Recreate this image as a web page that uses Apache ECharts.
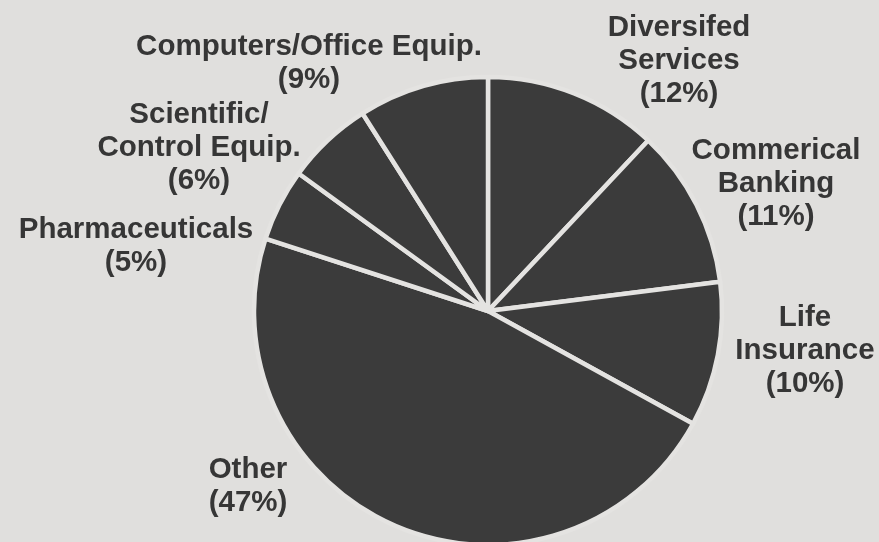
<!DOCTYPE html>
<html>
<head>
<meta charset="utf-8">
<script src="https://cdn.jsdelivr.net/npm/echarts@6/dist/echarts.min.js"></script>
<style>
html,body{margin:0;padding:0;background:#e0dfdd;}
#c{width:879px;height:542px;}
</style>
</head>
<body>
<div id="c"></div>
<script>
const categories = [
  'Diversifed\nServices',
  'Commerical\nBanking',
  'Life\nInsurance',
  'Other',
  'Pharmaceuticals',
  'Scientific/\nControl Equip.',
  'Computers/Office Equip.'
];
const shares = [12, 11, 10, 47, 5, 6, 9];

// label block centres (text placement only)
const labelSpots = [
  [679, 61], [776, 184], [805, 351], [248, 486], [136, 246], [199, 148], [309, 63]
];

const chart = echarts.init(document.getElementById('c'));
chart.setOption({
  backgroundColor: '#e0dfdd',
  animation: false,
  series: [{
    type: 'pie',
    center: [488, 311],
    radius: 234,
    startAngle: 90,
    clockwise: true,
    silent: true,
    itemStyle: { color: '#3b3b3b', borderColor: '#e4e3e1', borderWidth: 4.5 },
    label: {
      show: true,
      position: 'outside',
      formatter: '{b}\n({c}%)',
      fontFamily: 'Liberation Sans, Arial, sans-serif',
      fontWeight: 'bold',
      fontSize: 29.5,
      lineHeight: 33,
      color: '#363636',
      align: 'center',
      overflow: 'none',
      width: 400
    },
    labelLine: { show: false },
    labelLayout: function (p) {
      const s = labelSpots[p.dataIndex];
      return { x: s[0], y: s[1], align: 'center', verticalAlign: 'middle', width: 400 };
    },
    data: categories.map((n, i) => ({ name: n, value: shares[i] }))
  }]
});
</script>
</body>
</html>
